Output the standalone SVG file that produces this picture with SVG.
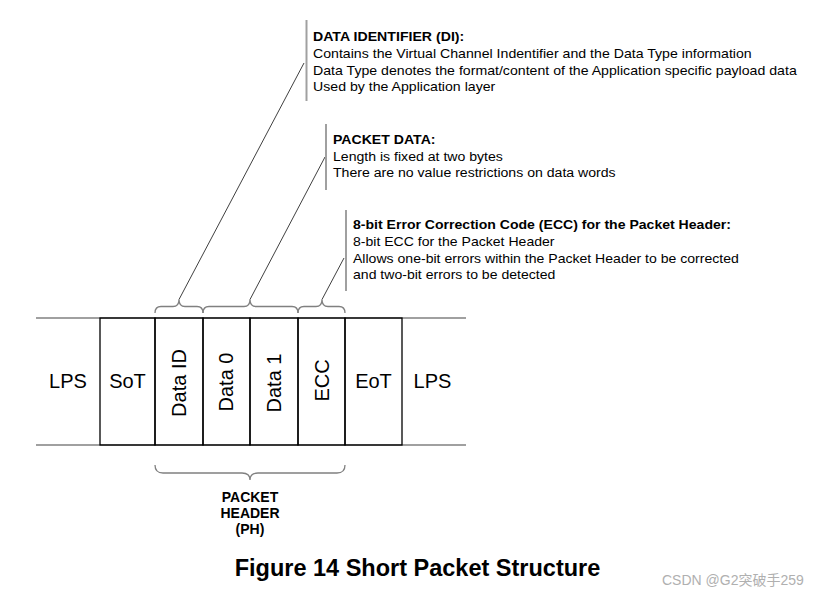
<svg xmlns="http://www.w3.org/2000/svg" width="824" height="596" viewBox="0 0 824 596">
<style>
.note{font-family:"Liberation Sans",Arial,sans-serif;font-size:12px;fill:#000}
.note .b{font-weight:bold}
.cell{font-family:"Liberation Sans",Arial,sans-serif;font-size:20px;fill:#000;text-anchor:middle}
.ph{font-family:"Liberation Sans",Arial,sans-serif;font-size:14px;font-weight:bold;fill:#000;text-anchor:middle}
.cap{font-family:"Liberation Sans",Arial,sans-serif;font-size:23.5px;font-weight:bold;fill:#000;text-anchor:middle}
.wm{font-family:"Liberation Sans","Noto Sans CJK SC",sans-serif;font-size:14px;fill:#b0b0b0}
.bar{stroke:#a0a0a0;stroke-width:2;fill:none}
.brace{stroke:#808080;stroke-width:1.3;fill:none}
.lead{stroke:#404040;stroke-width:1;fill:none}
.rail{stroke:#808080;stroke-width:1.3}
.box{stroke:#000;stroke-width:1.3;fill:none}
</style>
<rect width="824" height="596" fill="#fff"/>
<g id="rails">
<line class="rail" x1="36" y1="318" x2="466" y2="318"/>
<line class="rail" x1="36" y1="445" x2="466" y2="445"/>
</g>
<g id="lps-left"><text class="cell" x="68" y="388">LPS</text></g>
<g id="sot"><rect class="box" x="100" y="318" width="55" height="127"/><text class="cell" x="127.5" y="388">SoT</text></g>
<g id="data-id"><rect class="box" x="155" y="318" width="48" height="127"/><text class="cell" transform="translate(186 383) rotate(-90)">Data ID</text></g>
<g id="data0"><rect class="box" x="203" y="318" width="47" height="127"/><text class="cell" transform="translate(233 382) rotate(-90)">Data 0</text></g>
<g id="data1"><rect class="box" x="250" y="318" width="48" height="127"/><text class="cell" transform="translate(281 383) rotate(-90)">Data 1</text></g>
<g id="ecc"><rect class="box" x="298" y="318" width="47" height="127"/><text class="cell" transform="translate(328.5 380.5) rotate(-90)">ECC</text></g>
<g id="eot"><rect class="box" x="345" y="318" width="57" height="127"/><text class="cell" x="373.5" y="388">EoT</text></g>
<g id="lps-right"><text class="cell" x="432.5" y="388">LPS</text></g>
<g id="connectors">
<path class="brace" d="M155,313 Q155,306.5 161,306.5 L173,306.5 Q179,306.5 179,299.5 Q179,306.5 185,306.5 L197,306.5 Q203,306.5 203,313"/>
<path class="brace" d="M203,313 Q203,306.5 209,306.5 L244,306.5 Q250,306.5 250,299.5 Q250,306.5 256,306.5 L292,306.5 Q298,306.5 298,313"/>
<path class="brace" d="M298,313 Q298,306.5 304,306.5 L316,306.5 Q322,306.5 322,299.5 Q322,306.5 328,306.5 L339,306.5 Q345,306.5 345,313"/>
<path class="brace" d="M155,465 Q155,473 163,473 L242,473 Q250,473 250,480 Q250,473 258,473 L337,473 Q345,473 345,465"/>
<line class="lead" x1="179" y1="299.5" x2="304" y2="63"/>
<line class="lead" x1="250" y1="299.5" x2="325" y2="157"/>
<line class="lead" x1="322" y1="299.5" x2="344" y2="258"/>
</g>
<g id="note-di">
<line class="bar" x1="306.5" y1="20" x2="306.5" y2="101"/>
<g class="note" transform="translate(313 0) scale(1.178 1)">
<text class="b" x="0" y="41">DATA IDENTIFIER (DI):</text>
<text x="0" y="57.8">Contains the Virtual Channel Indentifier and the Data Type information</text>
<text x="0" y="74.6">Data Type denotes the format/content of the Application specific payload data</text>
<text x="0" y="91.4">Used by the Application layer</text>
</g>
</g>
<g id="note-pd">
<line class="bar" x1="326" y1="124" x2="326" y2="190"/>
<g class="note" transform="translate(333 0) scale(1.175 1)">
<text class="b" x="0" y="144">PACKET DATA:</text>
<text x="0" y="160.8">Length is fixed at two bytes</text>
<text x="0" y="177.5">There are no value restrictions on data words</text>
</g>
</g>
<g id="note-ecc">
<line class="bar" x1="346" y1="210" x2="346" y2="291"/>
<g class="note" transform="translate(353 0) scale(1.172 1)">
<text class="b" x="0" y="229.3">8-bit Error Correction Code (ECC) for the Packet Header:</text>
<text x="0" y="246">8-bit ECC for the Packet Header</text>
<text x="0" y="262.6">Allows one-bit errors within the Packet Header to be corrected</text>
<text x="0" y="279.3">and two-bit errors to be detected</text>
</g>
</g>
<g id="ph-label">
<text class="ph" x="250" y="501.5">PACKET</text>
<text class="ph" x="250" y="518">HEADER</text>
<text class="ph" x="250" y="534">(PH)</text>
</g>
<g id="caption"><text class="cap" x="417.5" y="576">Figure 14 Short Packet Structure</text></g>
<g id="watermark"><text class="wm" x="662" y="585">CSDN @G2突破手259</text></g>
</svg>
